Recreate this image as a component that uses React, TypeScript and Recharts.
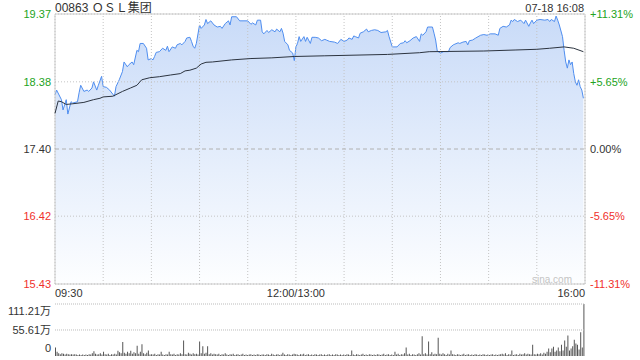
import React from 'react';
import {
  ComposedChart,
  Area,
  Line,
  XAxis,
  YAxis,
  ReferenceLine,
  ReferenceArea,
  BarChart,
  Bar,
} from 'recharts';

const FONT = '"Liberation Sans", Arial, "Noto Sans CJK SC", sans-serif';

const stockTitle = '00863 ＯＳＬ集团';
const stampText = '07-18 16:08';
const watermark = 'sina.com';

const prevClose = 17.4;
const priceTicks = [15.43, 16.42, 17.4, 18.38, 19.37];
const pctLabels = ['-11.31%', '-5.65%', '0.00%', '+5.65%', '+11.31%'];
const timeTicks = [0, 30, 60, 90, 120, 150, 180, 210, 240, 270, 300, 330];
const labelTimes = [0, 150, 330];
const labelTexts = ['09:30', '12:00/13:00', '16:00'];

const volTicks = [0, 55.61, 111.21];
const volLabels = ['0', '55.61万', '111.21万'];

// minute index (0 = 09:30, 150 = 12:00/13:00, 330 = 16:00) and price
const priceTimes = [
  0, 1, 4, 5, 7, 8, 10, 11, 14, 15, 16, 18, 20, 21, 23, 24, 26, 27, 29, 30,
  32, 34, 37, 38, 40, 42, 43, 45, 46, 48, 49, 51, 52, 53, 55, 57, 58, 60, 61, 62,
  63, 65, 67, 69, 70, 71, 73, 75, 76, 78, 79, 81, 82, 84, 85, 86, 87, 88, 90, 91,
  93, 94, 95, 97, 99, 101, 103, 104, 106, 108, 109, 110, 113, 115, 120, 122, 123, 125, 126, 128,
  129, 130, 132, 133, 135, 137, 138, 140, 141, 142, 143, 145, 146, 148, 149, 150, 151, 152, 153, 155,
  156, 157, 159, 160, 162, 164, 166, 168, 169, 171, 174, 176, 178, 180, 182, 183, 185, 186, 187, 189,
  190, 192, 194, 195, 197, 199, 201, 203, 206, 207, 208, 210, 213, 215, 217, 218, 219, 221, 223, 225,
  227, 228, 229, 231, 232, 235, 236, 237, 238, 240, 242, 245, 246, 248, 249, 251, 252, 254, 256, 257,
  258, 260, 262, 265, 267, 269, 271, 274, 276, 277, 279, 281, 283, 284, 285, 286, 288, 290, 292, 293,
  295, 296, 297, 298, 300, 302, 305, 307, 308, 309, 311, 312, 313, 314, 316, 317, 318, 319, 320, 321,
  322, 323, 324, 325, 326, 327, 328, 329,
];
const priceValues = [
  18.19, 18.26, 18.12, 17.97, 18.12, 17.91, 18.09, 18.07, 18.09, 18.22, 18.33, 18.24, 18.26, 18.24, 18.29, 18.38, 18.26, 18.33, 18.46, 18.31,
  18.3, 18.26, 18.17, 18.31, 18.41, 18.53, 18.67, 18.6, 18.63, 18.67, 18.63, 18.84, 18.82, 18.94, 18.94, 18.87, 18.7, 18.72, 18.7, 18.75,
  18.81, 18.82, 18.87, 18.84, 18.9, 18.82, 18.89, 18.87, 18.92, 18.94, 18.92, 18.97, 19.02, 19.03, 18.97, 18.9, 18.87, 18.94, 19.21, 19.16,
  19.21, 19.29, 19.23, 19.27, 19.21, 19.18, 19.19, 19.16, 19.23, 19.27, 19.21, 19.33, 19.33, 19.27, 19.27, 19.22, 19.24, 19.21, 19.28, 19.28,
  19.11, 19.08, 19.13, 19.1, 19.14, 19.11, 19.15, 19.11, 19.16, 19.09, 18.97, 18.92, 18.84, 18.8, 18.69, 18.89, 18.94, 19.04, 18.97, 19.04,
  18.97, 19.03, 18.94, 19.03, 19.03, 19.02, 18.98, 19.0, 18.99, 18.97, 18.96, 18.94, 19.0, 18.97, 18.99, 19.02, 19.0, 19.05, 19.04, 19.02,
  19.09, 19.11, 19.15, 19.11, 19.13, 19.14, 19.13, 19.1, 19.11, 19.13, 19.04, 18.89, 18.89, 18.94, 18.95, 18.98, 18.95, 18.98, 19.02, 19.04,
  18.97, 19.08, 19.06, 19.11, 19.18, 19.18, 19.09, 18.99, 18.83, 18.8, 18.82, 18.82, 18.88, 18.92, 18.93, 18.95, 18.94, 18.96, 18.97, 18.92,
  18.98, 18.99, 19.02, 19.06, 19.07, 19.06, 19.08, 19.08, 19.06, 19.16, 19.19, 19.18, 19.21, 19.28, 19.26, 19.29, 19.26, 19.28, 19.23, 19.28,
  19.19, 19.24, 19.28, 19.23, 19.28, 19.29, 19.28, 19.29, 19.26, 19.29, 19.26, 19.34, 19.28, 19.21, 19.04, 18.84, 18.67, 18.58, 18.7, 18.63,
  18.67, 18.5, 18.38, 18.33, 18.41, 18.31, 18.26, 18.14,
];

const avgTimes = [
  0, 2, 4, 7, 11, 18, 24, 28, 30, 36, 42, 47, 51, 54, 59, 65, 72, 78, 81, 84,
  88, 91, 94, 98, 110, 122, 135, 149, 168, 207, 227, 233, 267, 287, 300, 308, 317, 323, 329,
];
const avgValues = [
  17.92, 18.1, 18.09, 18.05, 18.06, 18.08, 18.12, 18.14, 18.16, 18.17, 18.24, 18.29, 18.33, 18.41, 18.44, 18.455, 18.48, 18.5, 18.54, 18.55,
  18.58, 18.64, 18.665, 18.67, 18.7, 18.72, 18.73, 18.75, 18.76, 18.78, 18.805, 18.82, 18.83, 18.845, 18.855, 18.87, 18.89, 18.87, 18.82,
];

// volume per minute, 万 shares (index = minute 0..330)
const volumes = [
  18, 9, 6, 4, 6, 5, 3, 5, 4, 3,
  4, 3, 4, 3, 2, 3, 2, 3, 2, 3,
  2, 4, 3, 6, 10, 5, 3, 4, 6, 3,
  9, 4, 3, 5, 2, 4, 3, 5, 3, 11,
  8, 6, 30, 7, 5, 9, 6, 11, 5, 8,
  6, 22, 5, 9, 25, 6, 4, 7, 12, 3,
  4, 3, 5, 2, 4, 3, 9, 3, 2, 4,
  3, 9, 4, 3, 5, 2, 4, 3, 6, 4,
  33, 4, 3, 7, 5, 3, 6, 4, 5, 3,
  31, 6, 21, 5, 7, 21, 4, 6, 3, 5,
  4, 3, 5, 2, 4, 3, 6, 3, 2, 4,
  3, 5, 2, 3, 4, 2, 3, 5, 2, 3,
  2, 3, 4, 2, 3, 2, 4, 3, 2, 3,
  3, 2, 4, 3, 2, 5, 3, 2, 3, 4,
  2, 3, 7, 3, 2, 4, 3, 2, 3, 5,
  4, 3, 2, 4, 3, 5, 2, 3, 4, 2,
  3, 2, 4, 3, 2, 3, 4, 2, 3, 2,
  3, 4, 2, 3, 2, 4, 3, 2, 3, 2,
  3, 2, 4, 3, 2, 12, 3, 2, 4, 3,
  2, 3, 5, 2, 3, 2, 4, 3, 2, 3,
  2, 4, 3, 2, 3, 5, 2, 3, 4, 2,
  3, 2, 9, 3, 5, 2, 4, 3, 6, 18,
  3, 5, 2, 4, 3, 2, 4, 6, 3, 42,
  4, 6, 3, 31, 4, 8, 3, 5, 4, 39,
  5, 3, 6, 4, 2, 5, 3, 12, 4, 3,
  2, 4, 3, 2, 3, 5, 2, 3, 4, 2,
  3, 2, 4, 3, 2, 3, 2, 4, 3, 2,
  3, 2, 3, 4, 2, 3, 2, 3, 4, 5,
  3, 6, 2, 4, 3, 12, 2, 3, 4, 2,
  5, 3, 4, 6, 3, 5, 4, 3, 24, 4,
  3, 5, 4, 6, 3, 7, 5, 9, 16, 8,
  16, 20, 9, 12, 18, 10, 24, 12, 33, 20,
  44, 12, 16, 21, 35, 27, 24, 14, 51, 18,
  111,
];

// merged table for the price chart
const priceMap: Record<number, { t: number; price?: number; avg?: number }> = {};
priceTimes.forEach((t, i) => {
  priceMap[t] = { ...(priceMap[t] || { t }), price: priceValues[i] };
});
avgTimes.forEach((t, i) => {
  priceMap[t] = { ...(priceMap[t] || { t }), avg: avgValues[i] };
});
const priceData = Object.values(priceMap).sort((a, b) => a.t - b.t);
const volumeData = volumes.map((v, i) => ({ i, v }));

const UP = '#22a322';
const DOWN = '#f0302c';
const FLAT = '#333333';
const GRID = '#c4c4c4';

const colorFor = (v: number) =>
  Math.abs(v - prevClose) < 1e-6 ? FLAT : v > prevClose ? UP : DOWN;

const LeftTick = (props: any) => {
  const { x, y, payload } = props;
  const v = payload.value as number;
  return (
    <text x={x} y={y} dy={4} textAnchor="end" fontSize={11} fontFamily={FONT} fill={colorFor(v)}>
      {v.toFixed(2)}
    </text>
  );
};

const RightTick = (props: any) => {
  const { x, y, payload } = props;
  const v = payload.value as number;
  const idx = priceTicks.findIndex((p) => Math.abs(p - v) < 1e-6);
  return (
    <text x={x} y={y} dy={4} textAnchor="start" fontSize={11} fontFamily={FONT} fill={colorFor(v)}>
      {pctLabels[idx]}
    </text>
  );
};

const TimeTick = (props: any) => {
  const { x, y, payload } = props;
  const idx = labelTimes.indexOf(payload.value);
  if (idx < 0) return <g />;
  const anchor = idx === 0 ? 'start' : idx === labelTimes.length - 1 ? 'end' : 'middle';
  return (
    <text x={x} y={y} dy={5} textAnchor={anchor} fontSize={11} fontFamily={FONT} fill="#333">
      {labelTexts[idx]}
    </text>
  );
};

const VolTick = (props: any) => {
  const { x, y, payload } = props;
  const idx = volTicks.findIndex((p) => Math.abs(p - payload.value) < 1e-6);
  const shift = idx === 0 ? -4 : idx === volTicks.length - 1 ? 11 : 4;
  return (
    <text x={x} y={y} dy={shift} textAnchor="end" fontSize={11} fontFamily={FONT} fill="#333">
      {volLabels[idx]}
    </text>
  );
};

export default function App() {
  return (
    <div style={{ position: 'absolute', left: 0, top: 0, width: 640, height: 360, background: '#fff', fontFamily: FONT }}>
      <div style={{ position: 'absolute', left: 0, top: 0 }}>
        <ComposedChart width={640} height={300} data={priceData} margin={{ top: 14, right: 0, bottom: 0, left: 0 }}>
          <defs>
            <linearGradient id="pg" x1="0" y1="0" x2="0" y2="1">
              <stop offset="0%" stopColor="#c9dbf8" stopOpacity={1} />
              <stop offset="100%" stopColor="#fdfeff" stopOpacity={1} />
            </linearGradient>
          </defs>
          <XAxis
            dataKey="t"
            type="number"
            domain={[0, 330]}
            ticks={timeTicks}
            interval={0}
            height={16}
            axisLine={false}
            tickLine={false}
            tickSize={8}
            tickMargin={0}
            tick={<TimeTick />}
          />
          <YAxis
            yAxisId="left"
            orientation="left"
            type="number"
            domain={[15.43, 19.37]}
            ticks={priceTicks}
            interval={0}
            width={55}
            axisLine={false}
            tickLine={false}
            tickSize={4}
            tickMargin={0}
            tick={<LeftTick />}
          />
          <YAxis
            yAxisId="right"
            orientation="right"
            type="number"
            domain={[15.43, 19.37]}
            ticks={priceTicks}
            interval={0}
            width={55}
            axisLine={false}
            tickLine={false}
            tickSize={5}
            tickMargin={0}
            tick={<RightTick />}
          />
          <Area
            yAxisId="left"
            dataKey="price"
            type="linear"
            stroke="#4f8ef0"
            strokeWidth={1}
            fill="url(#pg)"
            fillOpacity={1}
            connectNulls
            dot={false}
            activeDot={false}
            isAnimationActive={false}
          />
          {timeTicks.map((t) => (
            <ReferenceLine key={'v' + t} yAxisId="left" x={t} stroke={GRID} strokeDasharray="1 2" />
          ))}
          {priceTicks
            .filter((p) => Math.abs(p - prevClose) > 1e-6)
            .map((p) => (
              <ReferenceLine key={'h' + p} yAxisId="left" y={p} stroke={GRID} strokeDasharray="1 2" />
            ))}
          <ReferenceLine yAxisId="left" y={prevClose} stroke="#b0b0b0" strokeDasharray="4 3" />
          <Line
            yAxisId="right"
            dataKey="avg"
            type="linear"
            stroke="#2c3440"
            strokeWidth={1}
            connectNulls
            dot={false}
            activeDot={false}
            isAnimationActive={false}
          />
          <ReferenceArea yAxisId="left" x1={0} x2={330} y1={15.43} y2={19.37} fill="none" stroke="#cccccc" />
        </ComposedChart>
      </div>
      <div style={{ position: 'absolute', left: 0, top: 298 }}>
        <BarChart width={640} height={62} data={volumeData} margin={{ top: 6, right: 55, bottom: 4, left: 0 }}>
          <XAxis dataKey="i" hide />
          <YAxis
            type="number"
            domain={[0, 111.21]}
            ticks={volTicks}
            interval={0}
            width={55}
            axisLine={false}
            tickLine={false}
            tickSize={4}
            tickMargin={0}
            tick={<VolTick />}
          />
          <ReferenceLine y={55.61} stroke="#bbbbbb" strokeDasharray="1 1" />
          <ReferenceLine y={111.21} stroke="#bbbbbb" strokeDasharray="1 1" />
          <Bar dataKey="v" fill="#555555" barSize={1} isAnimationActive={false} />
        </BarChart>
      </div>
      <svg width={640} height={360} style={{ position: 'absolute', left: 0, top: 0, pointerEvents: 'none' }}>
        <text x={55} y={12} fontSize={12} fontFamily={FONT} fill="#333">
          {stockTitle}
        </text>
        <text x={584} y={11.5} fontSize={11} textAnchor="end" fontFamily={FONT} fill="#333">
          {stampText}
        </text>
        <text x={532} y={283} fontSize={10} fontFamily={FONT} fill="#c4c4c4">
          {watermark}
        </text>
      </svg>
    </div>
  );
}
